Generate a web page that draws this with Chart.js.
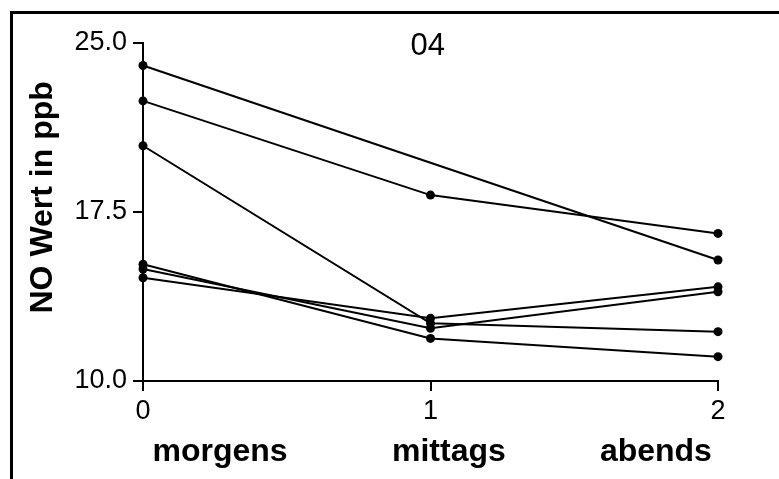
<!DOCTYPE html>
<html>
<head>
<meta charset="utf-8">
<script src="https://cdn.jsdelivr.net/npm/chart.js@4.4.1/dist/chart.umd.min.js"></script>
<style>
  html, body { margin: 0; padding: 0; background: #fff; }
  #wrap { position: relative; width: 779px; height: 479px; overflow: hidden; }
  #frame {
    position: absolute; left: 10px; top: 11px; width: 900px; height: 600px;
    border-left: 3px solid #000; border-top: 3px solid #000;
  }
  #chart { position: absolute; left: 0; top: 0; }
</style>
</head>
<body>
<div id="wrap">
  <div id="frame"></div>
  <canvas id="chart" width="779" height="479"></canvas>
</div>
<script>
  // x positions (time of day index) and axis ticks
  const xValues = [0, 1, 2];
  const xTicks = [0, 1, 2];
  const yTicks = [10.0, 17.5, 25.0];
  const periodLabels = ["morgens", "mittags", "abends"];
  const chartTitle = "04";
  const yTitle = "NO Wert in ppb";

  // NO values (ppb) per subject; null = not measured
  const subject1 = [24.0, null, 15.37];
  const subject2 = [22.43, 18.25, 16.55];
  const subject3 = [20.44, 12.56, 12.19];
  const subject4 = [14.58, 12.78, 14.18];
  const subject5 = [15.18, 11.89, 11.08];
  const subject6 = [14.97, 12.34, 13.96];

  const FONT = "'Liberation Sans', Arial, Helvetica, sans-serif";

  function toPoints(values) {
    return values.map((v, i) => ({ x: xValues[i], y: v }));
  }

  function lineDataset(values) {
    return {
      data: toPoints(values),
      borderColor: "#000",
      backgroundColor: "#000",
      borderWidth: 2,
      tension: 0,
      spanGaps: true,
      pointRadius: 4.5,
      pointHoverRadius: 4.5,
      pointBorderWidth: 0,
      clip: false,
    };
  }

  const textPlugin = {
    id: "textPlugin",
    afterDraw(chart) {
      const { ctx, scales } = chart;
      const x = scales.x, y = scales.y;
      ctx.save();
      ctx.fillStyle = "#000";
      ctx.textAlign = "center";
      ctx.textBaseline = "alphabetic";

      ctx.font = "31px " + FONT;
      ctx.fillText(chartTitle, x.getPixelForValue(0.99), 55);

      // period names under the axis, spread like the original
      const centers = [0.268, 1.064, 1.784];
      ctx.font = "bold 32px " + FONT;
      periodLabels.forEach((label, i) => {
        ctx.fillText(label, x.getPixelForValue(centers[i]), 461);
      });

      ctx.translate(52, y.getPixelForValue(18.15));
      ctx.rotate(-Math.PI / 2);
      ctx.fillText(yTitle, 0, 0);
      ctx.restore();
    },
  };

  new Chart(document.getElementById("chart").getContext("2d"), {
    type: "line",
    data: {
      datasets: [subject1, subject2, subject3, subject4, subject5, subject6].map(lineDataset),
    },
    options: {
      responsive: false,
      animation: false,
      devicePixelRatio: 1,
      layout: { padding: { top: 43, right: 61, bottom: 0, left: 0 } },
      plugins: { legend: { display: false }, tooltip: { enabled: false }, title: { display: false } },
      scales: {
        x: {
          type: "linear",
          min: 0,
          max: 2,
          afterBuildTicks: (s) => { s.ticks = xTicks.map((v) => ({ value: v })); },
          afterFit: (s) => { s.height = 98; },
          border: { color: "#000", width: 2 },
          grid: { drawOnChartArea: false, drawTicks: true, tickLength: 10, color: "#000", lineWidth: 2 },
          ticks: { color: "#000", padding: 4, maxRotation: 0, font: { size: 27, family: FONT } },
        },
        y: {
          type: "linear",
          min: 10,
          max: 25,
          afterBuildTicks: (s) => { s.ticks = yTicks.map((v) => ({ value: v })); },
          afterFit: (s) => { s.width = 143; },
          border: { color: "#000", width: 2 },
          grid: { drawOnChartArea: false, drawTicks: true, tickLength: 10, color: "#000", lineWidth: 2 },
          ticks: {
            color: "#000",
            padding: 6,
            font: { size: 27, family: FONT },
            callback: (v) => Number(v).toFixed(1),
          },
        },
      },
    },
    plugins: [textPlugin],
  });
</script>
</body>
</html>
